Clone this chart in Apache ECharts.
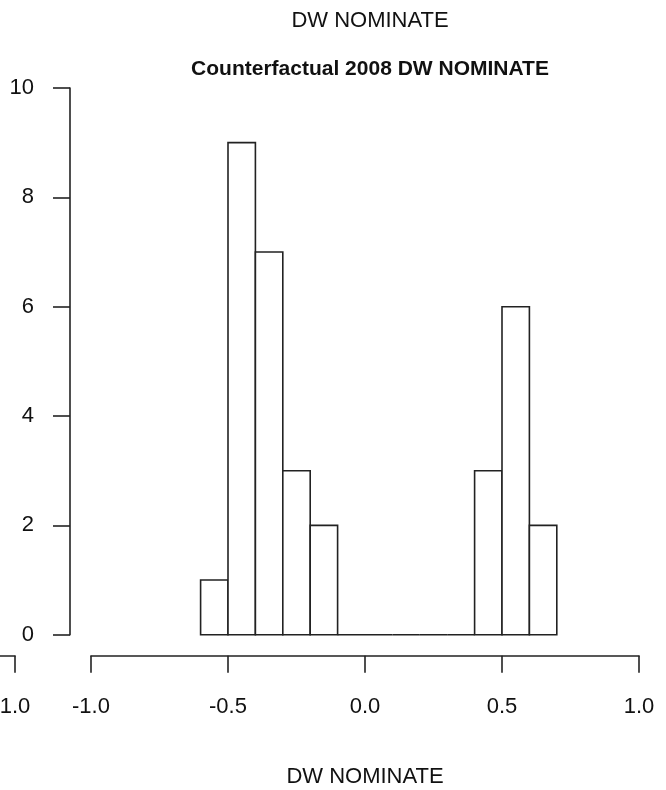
<!DOCTYPE html>
<html>
<head>
<meta charset="utf-8">
<title>Counterfactual 2008 DW NOMINATE</title>
<script src="https://cdn.jsdelivr.net/npm/echarts@6/dist/echarts.min.js"></script>
<style>
  html, body { margin: 0; padding: 0; background: #ffffff; }
  #chart { width: 666px; height: 790px; }
</style>
</head>
<body>
<div id="chart"></div>
<script>
// Histogram bins: left and right edge of each bin, and the count in it
const binLeft  = [-0.6, -0.5, -0.4, -0.3, -0.2, -0.1, 0.0, 0.1, 0.2, 0.3, 0.4, 0.5, 0.6];
const binRight = [-0.5, -0.4, -0.3, -0.2, -0.1, 0.0, 0.1, 0.2, 0.3, 0.4, 0.5, 0.6, 0.7];
const counts   = [1, 9, 7, 3, 2, 0, 0, 0, 0, 0, 3, 6, 2];

// Axis settings
const xTicks = [-1.0, -0.5, 0.0, 0.5, 1.0];
const yTicks = [0, 2, 4, 6, 8, 10];

const mainTitle = 'Counterfactual 2008 DW NOMINATE';
const xLabel = 'DW NOMINATE';

const FONT = "'Liberation Sans', Arial, Helvetica, sans-serif";
const INK = '#222222';
const LINE_W = 1.6;

const histData = binLeft.map((l, i) => [l, binRight[i], counts[i]]);

const chart = echarts.init(document.getElementById('chart'), null, { renderer: 'canvas' });

// Detached R-style x axis, shared by both panels
const xAxisCommon = {
  type: 'value',
  min: xTicks[0],
  max: xTicks[xTicks.length - 1],
  interval: 0.5,
  offset: 21,
  axisLine: { show: true, onZero: false, lineStyle: { color: INK, width: LINE_W } },
  axisTick: { show: true, inside: false, length: 17, lineStyle: { color: INK, width: LINE_W } },
  axisLabel: {
    show: true, margin: 40, color: '#111', fontSize: 22, fontFamily: FONT,
    formatter: v => v.toFixed(1), showMinLabel: true, showMaxLabel: true, hideOverlap: false
  },
  splitLine: { show: false }
};

const option = {
  backgroundColor: '#ffffff',
  animation: false,
  title: [
    {
      // x-axis label of the panel above
      text: xLabel,
      left: 365, top: 5, textAlign: 'center',
      textStyle: { fontFamily: FONT, fontSize: 22, fontWeight: 'normal', color: '#111' }
    },
    {
      text: mainTitle,
      left: 365, top: 54, textAlign: 'center',
      textStyle: { fontFamily: FONT, fontSize: 21, fontWeight: 'bold', color: '#111' }
    }
  ],
  grid: [
    { left: 91, top: 88, width: 548, height: 546.7, containLabel: false, outerBoundsMode: 'none' },
    // neighbouring panel, only its right end is in view
    { left: -533, top: 88, width: 548, height: 546.7, containLabel: false, outerBoundsMode: 'none' }
  ],
  xAxis: [
    Object.assign({}, xAxisCommon, {
      gridIndex: 0,
      name: xLabel,
      nameLocation: 'middle',
      nameGap: 110,
      nameTextStyle: { fontFamily: FONT, fontSize: 22, color: '#111' }
    }),
    Object.assign({}, xAxisCommon, { gridIndex: 1 })
  ],
  yAxis: [
    {
      type: 'value',
      gridIndex: 0,
      min: yTicks[0],
      max: yTicks[yTicks.length - 1],
      interval: 2,
      offset: 21,
      axisLine: { show: true, onZero: false, lineStyle: { color: INK, width: LINE_W } },
      axisTick: { show: true, inside: false, length: 17, lineStyle: { color: INK, width: LINE_W } },
      axisLabel: { show: true, margin: 36, color: '#111', fontSize: 22, fontFamily: FONT },
      splitLine: { show: false }
    },
    { type: 'value', gridIndex: 1, min: 0, max: 10, show: false }
  ],
  series: [
    {
      type: 'custom',
      xAxisIndex: 0,
      yAxisIndex: 0,
      data: histData,
      encode: { x: [0, 1], y: 2 },
      clip: false,
      renderItem: function (params, api) {
        const p0 = api.coord([api.value(0), 0]);
        const p1 = api.coord([api.value(1), api.value(2)]);
        return {
          type: 'rect',
          shape: { x: p0[0], y: p1[1], width: p1[0] - p0[0], height: p0[1] - p1[1] },
          style: { fill: '#ffffff', stroke: INK, lineWidth: LINE_W }
        };
      }
    }
  ]
};

chart.setOption(option);
</script>
</body>
</html>
